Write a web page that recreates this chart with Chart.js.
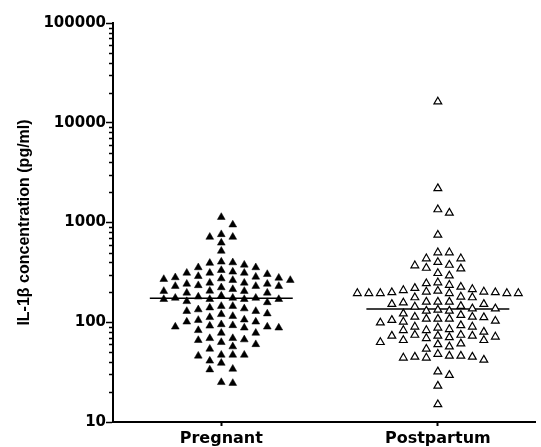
<!DOCTYPE html>
<html>
<head>
<meta charset="utf-8">
<script src="https://cdn.jsdelivr.net/npm/chart.js@4/dist/chart.umd.min.js"></script>
<style>
  body { margin: 0; background: #fff; }
  #wrap { width: 541px; height: 447px; }
</style>
</head>
<body>
<div id="wrap"><canvas id="chart"></canvas></div>
<script>
const categories = ["Pregnant", "Postpartum"];

// IL-1b values (pg/ml)
const pregnant = [1130, 950, 760, 715, 715, 625, 518,
  403, 392, 397, 376, 354, 354, 332, 312, 312, 312, 320, 303, 289, 281, 274, 264, 264, 270, 278, 285,
  248, 242, 234, 230, 223, 242, 248, 230, 230, 214, 206, 197, 205, 205, 197,
  184, 175, 175, 170, 170, 162, 170, 170, 158, 175, 180,
  145, 140, 122, 115, 134, 129, 129, 137, 145, 106, 101, 101, 105, 112, 120,
  92, 90, 88, 83, 78, 78, 88, 90, 93, 95,
  69, 67, 63, 60, 66, 69, 57, 54, 47, 46, 47, 47, 41, 39, 34, 33.5, 24.5, 25];

const postpartum = [16250, 2200, 1350, 1250, 750, 500, 500, 435, 400, 435, 370, 345, 350, 375, 310, 293, 245, 250,
  236, 220, 206, 202, 199, 195, 195, 195, 195, 195, 195, 199, 202, 209, 214, 226,
  177, 177, 180, 160, 157, 152, 152, 160, 160,
  143, 137, 133, 130, 130, 137, 145,
  112, 108, 105, 101, 93, 118, 113, 99, 122, 103, 108, 108, 113,
  85, 83, 74.5, 73, 90, 90, 70.5, 71.5, 74.5, 73, 73, 80, 83, 88,
  66, 63, 60, 61, 66, 69, 54, 57,
  48, 46, 45, 44, 42, 44, 45, 46,
  29.5, 32, 23, 15];

const medians = [174, 136];
const yTicks = [10, 100, 1000, 10000, 100000];

const wideFont = "'DejaVu Sans', sans-serif";
const titleFont = "'Liberation Sans', Arial, sans-serif";

// minor tick marks on the log axis
const minorTicks = {
  id: 'minorTicks',
  afterDraw(chart) {
    const y = chart.scales.y;
    const ctx = chart.ctx;
    ctx.save();
    ctx.strokeStyle = '#000';
    ctx.lineWidth = 1.5;
    for (let d = 10; d < 100000; d *= 10) {
      for (let m = 2; m < 10; m++) {
        const py = Math.round(y.getPixelForValue(d * m)) + 0.5;
        ctx.beginPath();
        ctx.moveTo(y.right - 4, py);
        ctx.lineTo(y.right, py);
        ctx.stroke();
      }
    }
    ctx.restore();
  }
};

const chart = new Chart(document.getElementById('chart'), {
  type: 'scatter',
  data: {
    datasets: [
      {
        label: categories[0],
        data: pregnant.map(v => ({ x: 0, y: v })),
        pointStyle: 'triangle',
        pointRadius: 4.5,
        backgroundColor: '#000',
        borderColor: '#000',
        borderWidth: 0.5
      },
      {
        label: categories[1],
        data: postpartum.map(v => ({ x: 1, y: v })),
        pointStyle: 'triangle',
        pointRadius: 4.5,
        backgroundColor: '#fff',
        borderColor: '#000',
        borderWidth: 1.2
      },
      ...medians.map((m, i) => ({
        type: 'line',
        label: 'median ' + categories[i],
        data: [{ x: i - 0.33, y: m }, { x: i + 0.33, y: m }],
        borderColor: '#000',
        borderWidth: 1.5,
        pointRadius: 0
      }))
    ]
  },
  options: {
    animation: false,
    responsive: true,
    maintainAspectRatio: false,
    layout: { padding: { top: 23, right: 0, bottom: 0, left: 0 } },
    plugins: { legend: { display: false }, tooltip: { enabled: false } },
    scales: {
      x: {
        type: 'linear',
        min: -0.5,
        max: 1.45,
        afterFit: s => { s.height = 25; },
        afterBuildTicks: s => { s.ticks = categories.map((c, i) => ({ value: i })); },
        grid: { drawOnChartArea: false, tickLength: 4, tickWidth: 2, tickColor: '#000' },
        border: { color: '#000', width: 2 },
        ticks: {
          callback: v => categories[v],
          color: '#000',
          padding: 3,
          maxRotation: 0,
          font: { family: wideFont, size: 16, weight: 'bold' }
        }
      },
      y: {
        type: 'logarithmic',
        min: 10,
        max: 100000,
        afterFit: s => { s.width = 113; },
        afterBuildTicks: s => { s.ticks = yTicks.map(v => ({ value: v })); },
        grid: { drawOnChartArea: false, tickLength: 7, tickWidth: 1.5, tickColor: '#000' },
        border: { color: '#000', width: 2 },
        ticks: {
          callback: v => String(v),
          color: '#000',
          padding: 0,
          autoSkip: false,
          font: { family: wideFont, size: 15, weight: 'bold' }
        },
        title: {
          display: true,
          text: 'IL-1β concentration (pg/ml)',
          color: '#000',
          padding: { top: 15, bottom: 0 },
          font: { family: titleFont, size: 16, weight: 'bold' }
        }
      }
    }
  },
  plugins: [minorTicks]
});

// spread points horizontally so they do not overlap (beeswarm)
const STEP = 5.75, GAP_X = 11.5, GAP_Y = 8;
function swarm(values, center) {
  const xs = chart.scales.x, ys = chart.scales.y;
  const ppu = xs.getPixelForValue(1) - xs.getPixelForValue(0);
  const order = values.map((v, i) => i).sort((a, b) => values[b] - values[a]);
  const placed = [];
  const out = new Array(values.length);
  for (const i of order) {
    const py = ys.getPixelForValue(values[i]);
    let dx = 0;
    for (let k = 0; k < 400; k++) {
      const cand = (k % 2 ? 1 : -1) * Math.ceil(k / 2) * STEP;
      const ok = placed.every(p => Math.abs(p.y - py) >= GAP_Y || Math.abs(p.dx - cand) >= GAP_X);
      if (ok) { dx = cand; break; }
    }
    placed.push({ y: py, dx: dx });
    out[i] = { x: center + dx / ppu, y: values[i] };
  }
  return out;
}

chart.data.datasets[0].data = swarm(pregnant, 0);
chart.data.datasets[1].data = swarm(postpartum, 1);
chart.update('none');
</script>
</body>
</html>
